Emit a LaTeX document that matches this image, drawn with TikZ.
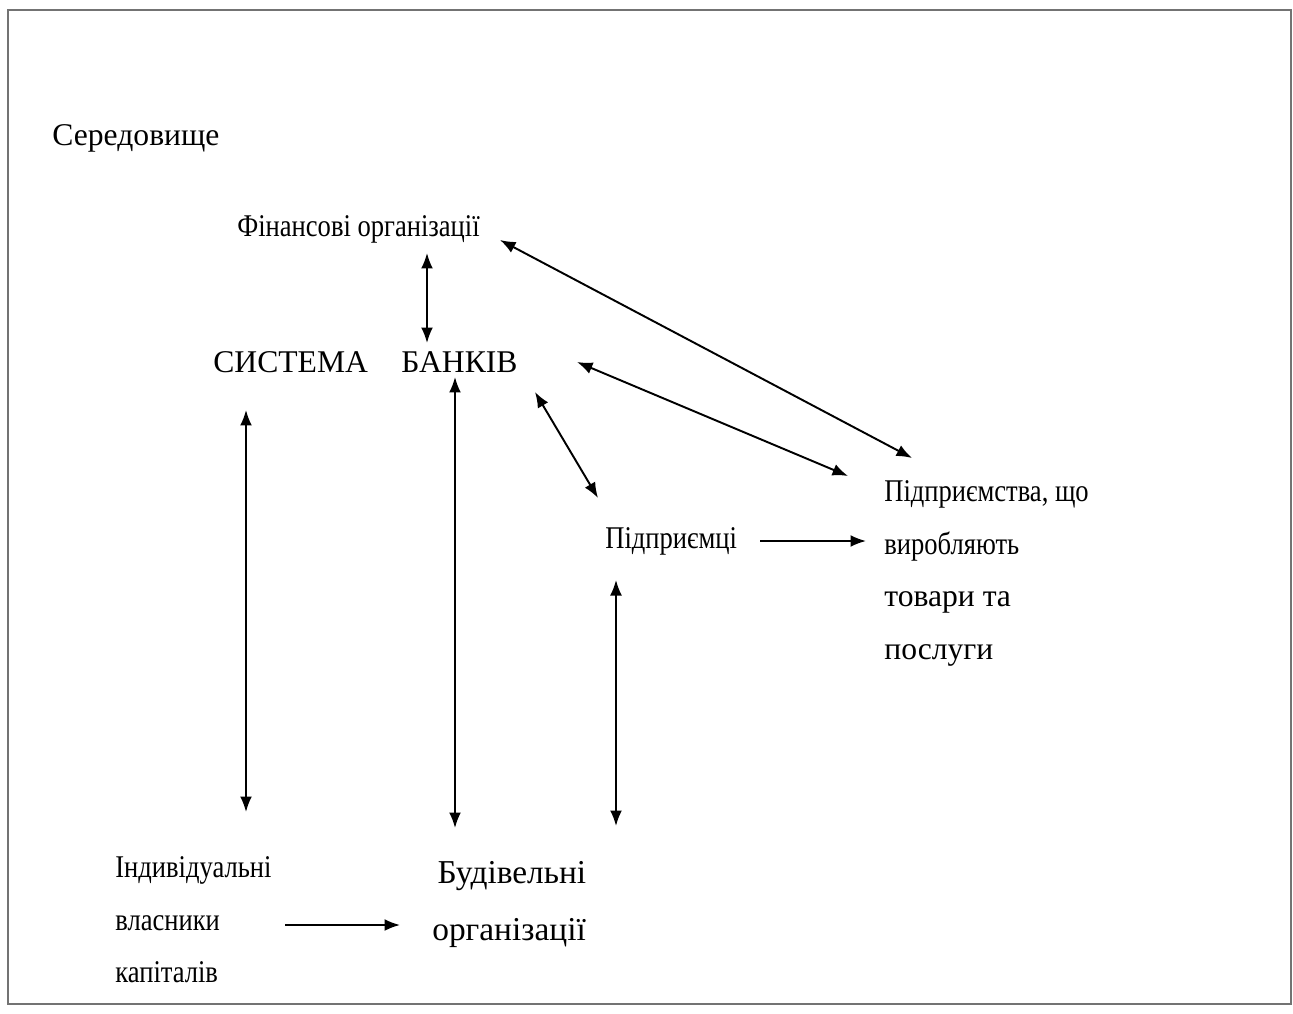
\documentclass[tikz,border=0pt]{standalone}
\usepackage{fontspec}
\setmainfont{Liberation Serif}
\usepackage{graphicx}
\usepackage{tikz}
\usetikzlibrary{arrows.meta,positioning}
\newcommand{\narrow}[1]{\scalebox{0.84}[1]{#1}}
\tikzset
{
    textnode/.style  = {inner sep=0pt, anchor=base west, font=\fontsize{18}{30}\selectfont},
    multinode/.style = {textnode, align=left, anchor=north west},
    link/.style      = {<->, line width=1.1pt},
    flow/.style      = {->, line width=1.1pt}
}

\begin{document}
\begin{tikzpicture}[x=0.02cm, y=-0.02cm, >={Latex[length=3.1mm,width=2.4mm]}]
    \useasboundingbox (0,0) rectangle (1293,1013);
    \draw [black!55, line width=1.2pt] (8,10) rectangle (1291,1004);

    \node [textnode] (env) at (52,146) {Середовище};
    \node [textnode] (fin) at (237,236) {\narrow{Фінансові організації}};
    \node [textnode] (banks) at (213,372) {СИСТЕМА\hspace{19pt}БАНКІВ};
    \node [textnode] (pidpr) at (605,548) {\narrow{Підприємці}};
    \node [multinode] (firms) at (884,480) {\narrow{Підприємства, що}\\ \narrow{виробляють}\\ товари та\\ послуги};
    \node [multinode] (indiv) at (115,856) {\narrow{Індивідуальні}\\ \narrow{власники}\\ \narrow{капіталів}};
    \node [multinode, font=\fontsize{19}{32.4}\selectfont] (build) at (432,861) {\hspace*{3pt}Будівельні\\ організації};

    \draw [link] ([shift={(190,17)}]fin.base west) -- ([shift={(214,-29)}]banks.base west);
    \draw [link] ([shift={(263,4)}]fin.base west) -- ([shift={(28,-22)}]firms.north west);
    \draw [link] ([shift={(364,-10)}]banks.base west) -- ([shift={(-36,-4)}]firms.north west);
    \draw [link] ([shift={(322,20)}]banks.base west) -- ([shift={(-7,-50)}]pidpr.base west);
    \draw [flow] ([shift={(155,-7)}]pidpr.base west) -- ([shift={(-18,61)}]firms.north west);
    \draw [link] ([shift={(33,38)}]banks.base west) -- ([shift={(131,-44)}]indiv.north west);
    \draw [link] ([shift={(242,5)}]banks.base west) -- ([shift={(23,-33)}]build.north west);
    \draw [link] ([shift={(11,32)}]pidpr.base west) -- ([shift={(184,-35)}]build.north west);
    \draw [flow] ([shift={(170,69)}]indiv.north west) -- ([shift={(-32,64)}]build.north west);
\end{tikzpicture}
\end{document}
